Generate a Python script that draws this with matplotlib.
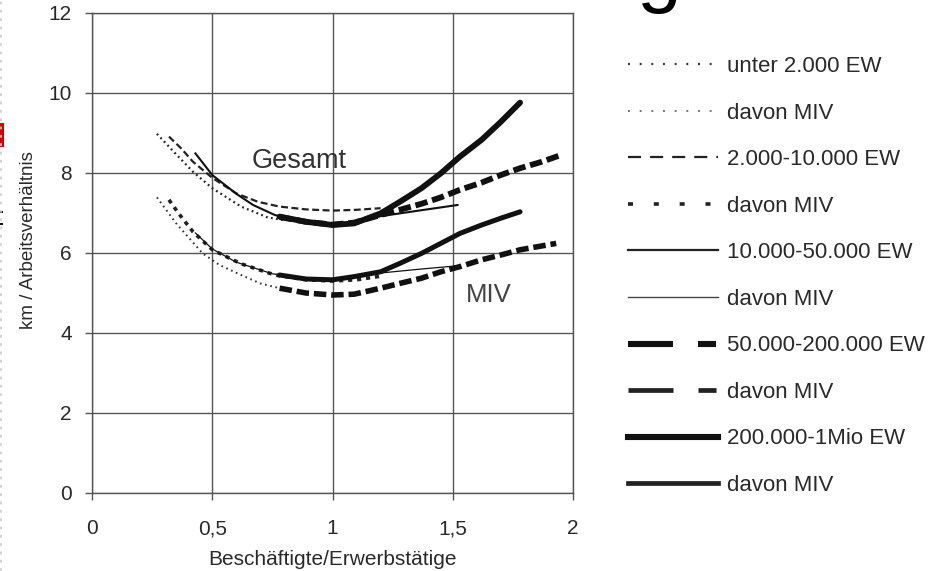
import matplotlib
matplotlib.use("Agg")
import matplotlib.pyplot as plt
from matplotlib.lines import Line2D
from matplotlib.patches import Rectangle

plt.rcParams['font.family'] = ['Liberation Sans', 'DejaVu Sans']
plt.rcParams['lines.scale_dashes'] = False

# ---------------- data ----------------
# Gesamt
x_u2_ges = [0.27, 0.34, 0.42, 0.50, 0.62, 0.73, 0.80]
y_u2_ges = [8.98, 8.53, 8.03, 7.62, 7.16, 6.89, 6.82]

x_2_10_ges = [0.32, 0.37, 0.42, 0.50, 0.60, 0.69, 0.78, 0.89, 1.00, 1.10, 1.20]
y_2_10_ges = [8.91, 8.62, 8.28, 7.88, 7.49, 7.28, 7.16, 7.09, 7.06, 7.08, 7.12]

x_10_50_ges = [0.43, 0.50, 0.60, 0.67, 0.76, 0.84, 0.92, 1.00, 1.10, 1.20, 1.37, 1.52]
y_10_50_ges = [8.49, 7.95, 7.48, 7.20, 6.95, 6.83, 6.74, 6.70, 6.76, 6.92, 7.07, 7.20]

x_50_200_ges = [0.78, 0.89, 1.00, 1.09, 1.20, 1.28, 1.37, 1.45, 1.53, 1.62, 1.70, 1.78, 1.87, 1.95]
y_50_200_ges = [6.90, 6.78, 6.71, 6.76, 6.95, 7.08, 7.23, 7.39, 7.58, 7.76, 7.95, 8.12, 8.28, 8.45]

x_200_1m_ges = [0.78, 0.89, 1.00, 1.09, 1.20, 1.28, 1.37, 1.45, 1.53, 1.62, 1.70, 1.78]
y_200_1m_ges = [6.91, 6.78, 6.70, 6.74, 6.99, 7.28, 7.62, 7.99, 8.41, 8.83, 9.28, 9.76]

# davon MIV
x_u2_miv = [0.27, 0.35, 0.41, 0.46, 0.53, 0.62, 0.70, 0.78]
y_u2_miv = [7.39, 6.74, 6.33, 5.99, 5.70, 5.45, 5.24, 5.12]

x_2_10_miv = [0.32, 0.36, 0.42, 0.50, 0.62, 0.76, 0.89, 1.00, 1.10, 1.20]
y_2_10_miv = [7.33, 6.99, 6.53, 6.08, 5.73, 5.45, 5.33, 5.30, 5.33, 5.42]

x_10_50_miv = [0.43, 0.50, 0.60, 0.75, 0.90, 1.00, 1.20, 1.37, 1.52]
y_10_50_miv = [6.50, 6.10, 5.77, 5.48, 5.35, 5.32, 5.50, 5.60, 5.68]

x_50_200_miv = [0.78, 0.89, 1.00, 1.09, 1.20, 1.28, 1.37, 1.45, 1.53, 1.62, 1.70, 1.78, 1.93]
y_50_200_miv = [5.12, 5.00, 4.95, 4.97, 5.12, 5.24, 5.37, 5.53, 5.66, 5.83, 5.95, 6.08, 6.24]

x_200_1m_miv = [0.78, 0.89, 1.00, 1.09, 1.20, 1.28, 1.37, 1.45, 1.53, 1.62, 1.70, 1.78]
y_200_1m_miv = [5.45, 5.35, 5.33, 5.41, 5.53, 5.74, 5.99, 6.24, 6.49, 6.70, 6.87, 7.03]

legend_labels = ["unter 2.000 EW", "davon MIV", "2.000-10.000 EW", "davon MIV",
                 "10.000-50.000 EW", "davon MIV", "50.000-200.000 EW", "davon MIV",
                 "200.000-1Mio EW", "davon MIV"]

x_ticks = [0, 0.5, 1, 1.5, 2]
x_ticklabels = ["0", "0,5", "1", "1,5", "2"]
y_ticks = [0, 2, 4, 6, 8, 10, 12]

# ---------------- figure ----------------
W, H = 934, 571
fig = plt.figure(figsize=(W / 100, H / 100), dpi=100)
ax = fig.add_axes([92 / W, 1 - 493 / H, (573 - 92) / W, (493 - 13) / H])

ink = '#111111'
grid_c = '#555555'
txt_c = '#2a2a2a'

# thin / dotted / dashed first, thick on top
ax.plot(x_u2_ges, y_u2_ges, color='#222222', lw=1.6, ls=(0, (1.3, 2.4)))
ax.plot(x_u2_miv, y_u2_miv, color='#333333', lw=1.4, ls=(0, (1.2, 2.6)))
ax.plot(x_2_10_ges, y_2_10_ges, color='#222222', lw=1.6, ls=(0, (5, 2.5)))
ax.plot(x_2_10_miv, y_2_10_miv, color='#222222', lw=2.6, ls=(0, (3, 3.5)))
ax.plot(x_10_50_ges, y_10_50_ges, color=ink, lw=1.5)
ax.plot(x_10_50_miv, y_10_50_miv, color=ink, lw=0.9)
ax.plot(x_200_1m_ges, y_200_1m_ges, color=ink, lw=4.2, solid_capstyle='round', solid_joinstyle='round')
ax.plot(x_200_1m_miv, y_200_1m_miv, color=ink, lw=3.6, solid_capstyle='round', solid_joinstyle='round')
ax.plot(x_50_200_ges, y_50_200_ges, color=ink, lw=4.2, ls=(0, (9, 3.5)))
ax.plot(x_50_200_miv, y_50_200_miv, color=ink, lw=4.0, ls=(0, (9, 3.5)))

ax.text(0.665, 8.13, "Gesamt", fontsize=19.5, color='#333333', va='baseline', ha='left')
ax.text(1.554, 4.78, "MIV", fontsize=18.5, color='#444444', va='baseline', ha='left')

ax.set_xlim(0, 2)
ax.set_ylim(0, 12)
ax.set_xticks(x_ticks)
ax.set_xticklabels(x_ticklabels)
ax.set_yticks(y_ticks)
ax.grid(True, color=grid_c, lw=1.0)
ax.set_axisbelow(True)
for s in ax.spines.values():
    s.set_color(grid_c)
    s.set_linewidth(1.0)
ax.tick_params(axis='both', colors=grid_c, labelcolor=txt_c, labelsize=15, length=5, width=1.0)
ax.tick_params(axis='y', pad=9.5)
ax.tick_params(axis='x', pad=14)

ax.set_xlabel("Beschäftigte/Erwerbstätige", fontsize=15, color=txt_c)
ax.xaxis.set_label_coords(0.5, -0.119)
ax.set_ylabel("km / Arbeitsverhältnis", fontsize=13.5, color=txt_c)
ax.yaxis.set_label_coords(-0.114, 0.527)

# ---------------- legend (proxy handles reproducing the legend samples) ----------------
handles = [
    Line2D([], [], color='#333333', lw=1.6, ls=(0, (1.4, 7.0))),
    Line2D([], [], color='#777777', lw=1.4, ls=(0, (1.4, 7.0))),
    Line2D([], [], color='#222222', lw=1.6, ls=(0, (9.4, 6.5))),
    Line2D([], [], color='#222222', lw=2.6, ls=(0, (3.6, 15.0))),
    Line2D([], [], color='#222222', lw=1.6),
    Line2D([], [], color='#444444', lw=1.0),
    Line2D([], [], color=ink, lw=4.4, ls=(0, (32.4, 18, 13, 60))),
    Line2D([], [], color='#222222', lw=3.4, ls=(0, (32.4, 18, 13, 60))),
    Line2D([], [], color=ink, lw=4.4),
    Line2D([], [], color='#222222', lw=3.4),
]
leg = fig.legend(handles, legend_labels, loc='upper left',
                 bbox_to_anchor=(628 / W, 1 - 56 / H), frameon=False,
                 fontsize=16, handlelength=4.05, handletextpad=0.42,
                 labelspacing=1.15, borderpad=0, borderaxespad=0)
for t in leg.get_texts():
    t.set_color(txt_c)

# ---------------- page fragments visible around the chart ----------------
fig.add_artist(Line2D([1 / W, 1 / W], [0, 1], transform=fig.transFigure,
                      color='#cccccc', lw=1.2, ls=(0, (2, 4))))
fig.add_artist(Rectangle((0, 1 - 147 / H), 3.5 / W, 24 / H, transform=fig.transFigure,
                         color='#d40000', lw=0))
fig.add_artist(Rectangle((0, 1 - 213 / H), 3 / W, 2 / H, transform=fig.transFigure,
                         color='#111111', lw=0))
fig.add_artist(Rectangle((0, 1 - 225 / H), 3 / W, 2 / H, transform=fig.transFigure,
                         color='#111111', lw=0))
fig.text(637 / W, 1 + 3 / H, "g", fontsize=58, color='#000000', va='baseline', ha='left')

fig.savefig("out.png", dpi=100, facecolor='white')
